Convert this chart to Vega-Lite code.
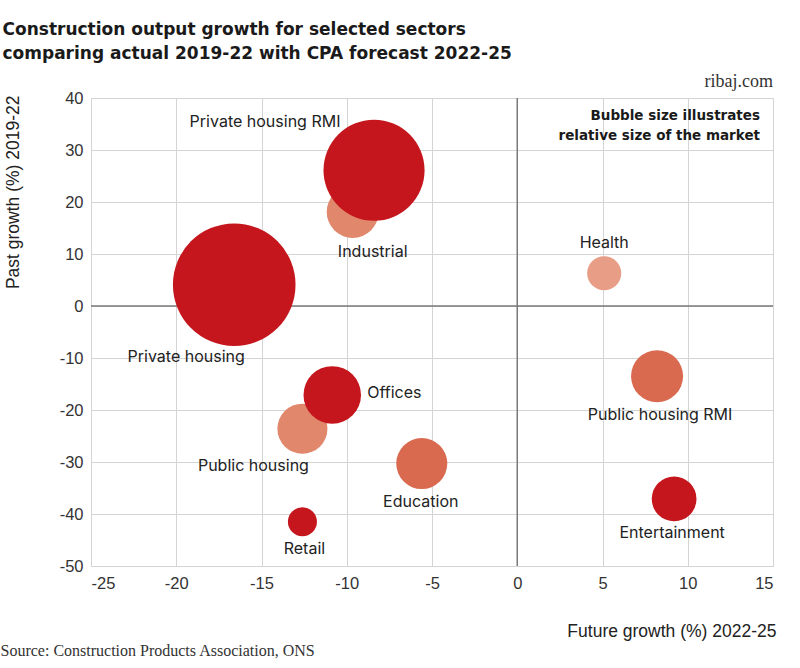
{
  "$schema": "https://vega.github.io/schema/vega-lite/v6.json",
  "background": "white",
  "padding": {"left": 0, "top": 20, "right": 0, "bottom": 0},
  "config": {
    "view": {"stroke": "#d4d4d4", "strokeWidth": 1},
    "axis": {
      "grid": true, "gridColor": "#d4d4d4", "gridWidth": 1,
      "domain": false, "ticks": false,
      "labelFont": "Liberation Sans", "labelFontSize": 16.5, "labelColor": "#333333",
      "labelExpr": "'' + datum.value",
      "titleFont": "Liberation Sans", "titleFontSize": 17.5, "titleFontWeight": "normal", "titleColor": "#222222"
    },
    "title": {"color": "#1a1a1a"},
    "concat": {"spacing": 0}
  },
  "title": {
    "text": "Source: Construction Products Association, ONS",
    "orient": "bottom", "anchor": "start", "frame": "bounds",
    "font": "Liberation Serif", "fontSize": 16, "fontWeight": "normal", "color": "#333333",
    "offset": 3, "dx": -2
  },
  "vconcat": [
    {
      "title": {
        "text": ["Construction output growth for selected sectors", "comparing actual 2019-22 with CPA forecast 2022-25"],
        "orient": "top", "anchor": "start", "frame": "bounds",
        "font": "DejaVu Sans", "fontSize": 17, "fontWeight": "bold", "lineHeight": 24, "offset": 10, "dx": -1
      },
      "vconcat": [
        {
          "title": {
            "text": "ribaj.com", "orient": "top", "anchor": "end", "frame": "group",
            "font": "Liberation Serif", "fontSize": 18, "fontWeight": "normal", "color": "#333333", "offset": -1
          },
          "width": 682,
          "height": 468,
          "data": {
            "values": [
              {"sector": "Private housing", "x": -16.6, "y": 4.1, "market": 150},
              {"sector": "Industrial", "x": -9.65, "y": 18.1, "market": 27},
              {"sector": "Private housing RMI", "x": -8.4, "y": 26.1, "market": 102},
              {"sector": "Health", "x": 5.1, "y": 6.3, "market": 11.6},
              {"sector": "Public housing RMI", "x": 8.2, "y": -13.5, "market": 27},
              {"sector": "Public housing", "x": -12.6, "y": -23.6, "market": 25},
              {"sector": "Offices", "x": -10.85, "y": -17.1, "market": 33},
              {"sector": "Education", "x": -5.6, "y": -30.3, "market": 26},
              {"sector": "Entertainment", "x": 9.2, "y": -37.1, "market": 20},
              {"sector": "Retail", "x": -12.6, "y": -41.5, "market": 8.4}
            ]
          },
          "layer": [
            {
              "data": {"values": [{}]},
              "mark": {"type": "rule", "color": "#7a7a7a", "strokeWidth": 1.5},
              "encoding": {"x": {"datum": 0}}
            },
            {
              "data": {"values": [{}]},
              "mark": {"type": "rule", "color": "#7a7a7a", "strokeWidth": 1.5},
              "encoding": {"y": {"datum": 0}}
            },
            {
              "mark": {"type": "circle", "opacity": 1},
              "encoding": {
                "x": {
                  "field": "x", "type": "quantitative",
                  "scale": {"domain": [-25, 15], "nice": false, "zero": false},
                  "axis": {
                    "title": "Future growth (%) 2022-25",
                    "values": [-25, -20, -15, -10, -5, 0, 5, 10, 15],
                    "labelPadding": 9,
                    "titleAnchor": null, "titleX": 685, "titleY": 70, "titleAlign": "right", "titleBaseline": "alphabetic"
                  }
                },
                "y": {
                  "field": "y", "type": "quantitative",
                  "scale": {"domain": [-50, 40], "nice": false, "zero": false},
                  "axis": {
                    "title": "Past growth (%) 2019-22",
                    "values": [-50, -40, -30, -20, -10, 0, 10, 20, 30, 40],
                    "labelPadding": 8,
                    "titleAnchor": null, "titleX": -73, "titleY": -3, "titleAlign": "right", "titleBaseline": "alphabetic", "titleAngle": -90
                  }
                },
                "size": {
                  "field": "market", "type": "quantitative",
                  "scale": {"type": "linear", "domain": [0, 150], "range": [0, 15030], "zero": true},
                  "legend": null
                },
                "color": {
                  "field": "sector", "type": "nominal",
                  "scale": {
                    "domain": ["Private housing", "Private housing RMI", "Industrial", "Health", "Public housing RMI", "Offices", "Public housing", "Education", "Entertainment", "Retail"],
                    "range": ["#c4161c", "#c4161c", "#e0876c", "#e89e86", "#d96a50", "#c4161c", "#e0876c", "#d96a50", "#c4161c", "#c4161c"]
                  },
                  "legend": null
                },
                "order": {"field": "market", "sort": "ascending"}
              }
            },
            {
              "transform": [{"filter": {"field": "sector", "equal": "Private housing RMI"}}],
              "mark": {"type": "text", "font": "Inter", "fontSize": 16, "color": "#222222", "dx": -109, "dy": -48},
              "encoding": {"x": {"field": "x", "type": "quantitative"}, "y": {"field": "y", "type": "quantitative"}, "text": {"field": "sector"}}
            },
            {
              "transform": [{"filter": {"field": "sector", "equal": "Industrial"}}],
              "mark": {"type": "text", "font": "Inter", "fontSize": 16, "color": "#222222", "dx": 20, "dy": 40},
              "encoding": {"x": {"field": "x", "type": "quantitative"}, "y": {"field": "y", "type": "quantitative"}, "text": {"field": "sector"}}
            },
            {
              "transform": [{"filter": {"field": "sector", "equal": "Private housing"}}],
              "mark": {"type": "text", "font": "Inter", "fontSize": 16, "color": "#222222", "dx": -48, "dy": 72},
              "encoding": {"x": {"field": "x", "type": "quantitative"}, "y": {"field": "y", "type": "quantitative"}, "text": {"field": "sector"}}
            },
            {
              "transform": [{"filter": {"field": "sector", "equal": "Health"}}],
              "mark": {"type": "text", "font": "Inter", "fontSize": 16, "color": "#222222", "dx": 0, "dy": -30},
              "encoding": {"x": {"field": "x", "type": "quantitative"}, "y": {"field": "y", "type": "quantitative"}, "text": {"field": "sector"}}
            },
            {
              "transform": [{"filter": {"field": "sector", "equal": "Public housing RMI"}}],
              "mark": {"type": "text", "font": "Inter", "fontSize": 16, "color": "#222222", "dx": 3, "dy": 39},
              "encoding": {"x": {"field": "x", "type": "quantitative"}, "y": {"field": "y", "type": "quantitative"}, "text": {"field": "sector"}}
            },
            {
              "transform": [{"filter": {"field": "sector", "equal": "Offices"}}],
              "mark": {"type": "text", "font": "Inter", "fontSize": 16, "color": "#222222", "align": "left", "dx": 35, "dy": -2},
              "encoding": {"x": {"field": "x", "type": "quantitative"}, "y": {"field": "y", "type": "quantitative"}, "text": {"field": "sector"}}
            },
            {
              "transform": [{"filter": {"field": "sector", "equal": "Public housing"}}],
              "mark": {"type": "text", "font": "Inter", "fontSize": 16, "color": "#222222", "dx": -49, "dy": 37},
              "encoding": {"x": {"field": "x", "type": "quantitative"}, "y": {"field": "y", "type": "quantitative"}, "text": {"field": "sector"}}
            },
            {
              "transform": [{"filter": {"field": "sector", "equal": "Education"}}],
              "mark": {"type": "text", "font": "Inter", "fontSize": 16, "color": "#222222", "dx": -1, "dy": 38},
              "encoding": {"x": {"field": "x", "type": "quantitative"}, "y": {"field": "y", "type": "quantitative"}, "text": {"field": "sector"}}
            },
            {
              "transform": [{"filter": {"field": "sector", "equal": "Entertainment"}}],
              "mark": {"type": "text", "font": "Inter", "fontSize": 16, "color": "#222222", "dx": -2, "dy": 34},
              "encoding": {"x": {"field": "x", "type": "quantitative"}, "y": {"field": "y", "type": "quantitative"}, "text": {"field": "sector"}}
            },
            {
              "transform": [{"filter": {"field": "sector", "equal": "Retail"}}],
              "mark": {"type": "text", "font": "Inter", "fontSize": 16, "color": "#222222", "dx": 2, "dy": 27},
              "encoding": {"x": {"field": "x", "type": "quantitative"}, "y": {"field": "y", "type": "quantitative"}, "text": {"field": "sector"}}
            },
            {
              "data": {"values": [{}]},
              "mark": {"type": "text", "font": "DejaVu Sans", "fontSize": 13.5, "fontWeight": "bold", "color": "#1a1a1a", "align": "right", "baseline": "middle", "lineHeight": 20, "dx": -13, "dy": 18},
              "encoding": {"x": {"datum": 15}, "y": {"datum": 40}, "text": {"value": ["Bubble size illustrates", "relative size of the market"]}}
            }
          ]
        }
      ]
    }
  ]
}
